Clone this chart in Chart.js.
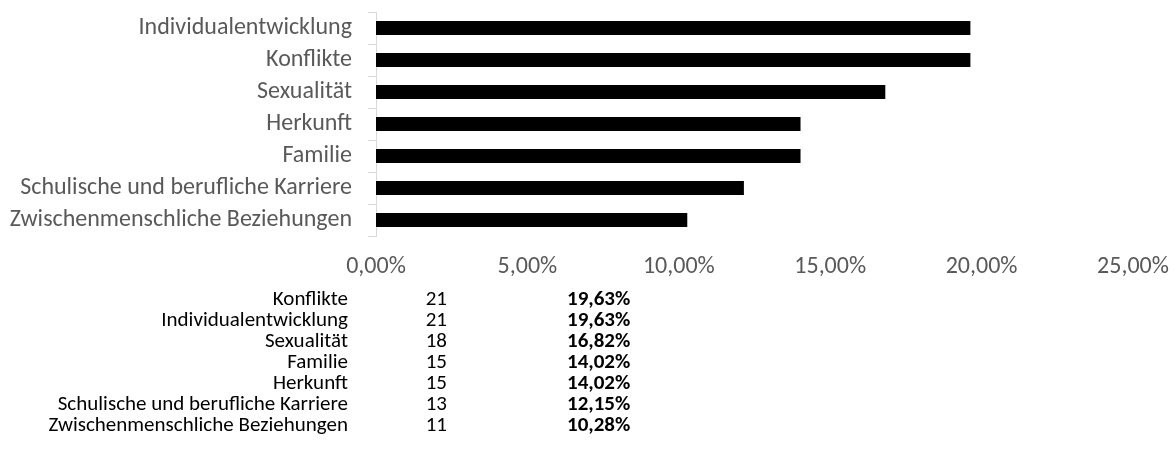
<!DOCTYPE html>
<html>
<head>
<meta charset="utf-8">
<script src="https://cdn.jsdelivr.net/npm/chart.js@4/dist/chart.umd.min.js"></script>
<style>
  html, body { margin: 0; padding: 0; background: #fff; }
  body { width: 1176px; height: 468px; position: relative; overflow: hidden; font-family: Carlito, Lato, sans-serif; }
  #wrap { position: absolute; left: 0; top: 0; width: 1176px; height: 290px; }
  .cell { position: absolute; font-size: 21px; color: #000; line-height: 21px; white-space: nowrap; }
  .lbl { text-align: right; width: 500px; }
  .cnt { text-align: right; width: 60px; }
  .pct { text-align: left; font-weight: bold; font-size: 21px; }
</style>
</head>
<body>
<div id="wrap"><canvas id="c" width="1176" height="290"></canvas></div>
<div id="table"></div>
<script>
// Chart data
const categories = [
  "Individualentwicklung",
  "Konflikte",
  "Sexualität",
  "Herkunft",
  "Familie",
  "Schulische und berufliche Karriere",
  "Zwischenmenschliche Beziehungen"
];
const shares = [19.63, 19.63, 16.82, 14.02, 14.02, 12.15, 10.28];
const xMin = 0;
const xMax = 25;
const xStep = 5;

// Table data
const tableLabels = [
  "Konflikte",
  "Individualentwicklung",
  "Sexualität",
  "Familie",
  "Herkunft",
  "Schulische und berufliche Karriere",
  "Zwischenmenschliche Beziehungen"
];
const tableCounts = [21, 21, 18, 15, 15, 13, 11];
const tablePercents = ["19,63%", "19,63%", "16,82%", "14,02%", "14,02%", "12,15%", "10,28%"];

const FONT = "Carlito, Lato, sans-serif";
const fmt = v => Number(v).toFixed(2).replace('.', ',') + '%';

new Chart(document.getElementById('c'), {
  type: 'bar',
  data: {
    labels: categories,
    datasets: [{
      data: shares,
      backgroundColor: '#000000',
      borderWidth: 0,
      categoryPercentage: 1.0,
      barPercentage: 0.44
    }]
  },
  options: {
    indexAxis: 'y',
    responsive: false,
    animation: false,
    devicePixelRatio: 1,
    layout: { padding: { top: 12, right: 43, left: 0, bottom: 0 } },
    plugins: { legend: { display: false }, tooltip: { enabled: false } },
    scales: {
      x: {
        min: xMin, max: xMax,
        ticks: { stepSize: xStep, callback: v => fmt(v), color: '#595959', font: { family: FONT, size: 24 }, padding: 17, maxRotation: 0 },
        grid: { display: false, drawTicks: false },
        border: { display: false },
        afterFit: s => { s.height = 54; s.paddingLeft = 0; s.paddingRight = 0; }
      },
      y: {
        ticks: { color: '#595959', font: { family: FONT, size: 24 }, padding: 16 },
        grid: { drawOnChartArea: false, drawTicks: true, tickLength: 8, color: '#d9d9d9', offset: true },
        border: { display: true, color: '#d9d9d9', width: 1 },
        afterFit: s => { s.width = 376; s.paddingTop = 0; s.paddingBottom = 0; }
      }
    }
  }
});

// Table below the chart
const table = document.getElementById('table');
const rowTop0 = 288;
const rowStep = 21;
tableLabels.forEach((lbl, i) => {
  const top = rowTop0 + i * rowStep;
  const a = document.createElement('div');
  a.className = 'cell lbl'; a.style.left = (348 - 500) + 'px'; a.style.top = top + 'px'; a.textContent = lbl;
  const b = document.createElement('div');
  b.className = 'cell cnt'; b.style.left = (447 - 60) + 'px'; b.style.top = top + 'px'; b.textContent = tableCounts[i];
  const c = document.createElement('div');
  c.className = 'cell pct'; c.style.left = '567px'; c.style.top = top + 'px'; c.textContent = tablePercents[i];
  table.appendChild(a); table.appendChild(b); table.appendChild(c);
});
</script>
</body>
</html>
